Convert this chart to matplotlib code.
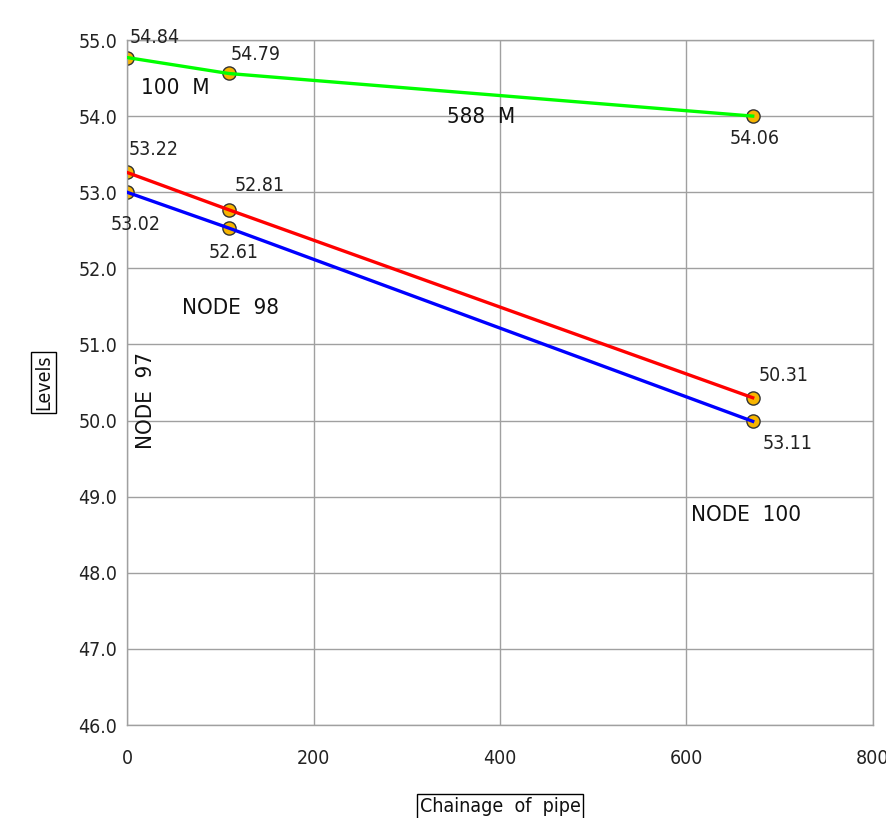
import matplotlib
matplotlib.use("Agg")
import matplotlib.pyplot as plt

plt.rcParams['font.family'] = ['DejaVu Sans']
plt.rcParams['font.stretch'] = 'condensed'

chainage = [0, 109, 671]
green_levels = [54.77, 54.56, 54.00]
red_levels = [53.26, 52.77, 50.30]
blue_levels = [53.00, 52.53, 49.99]

green_labels = ["54.84", "54.79", "54.06"]
red_labels = ["53.22", "52.81", "50.31"]
blue_labels = ["53.02", "52.61", "53.11"]

x_ticks = [0, 200, 400, 600, 800]
y_ticks = [46.0, 47.0, 48.0, 49.0, 50.0, 51.0, 52.0, 53.0, 54.0, 55.0]

fig = plt.figure(figsize=(8.87, 8.18), dpi=100)
ax = fig.add_axes([127/887, 93/818, 746/887, 685/818])

ax.set_xlim(0, 800)
ax.set_ylim(46, 55)
ax.set_xticks(x_ticks)
ax.set_yticks(y_ticks)
ax.set_yticklabels([f"{v:.1f}" for v in y_ticks])
ax.grid(True, color='#a0a0a0', linewidth=1.0)
ax.set_axisbelow(True)
for s in ax.spines.values():
    s.set_color('#a0a0a0')
    s.set_linewidth(1.0)
ax.tick_params(length=0, labelsize=14, labelcolor='#222222')
ax.tick_params(axis='y', pad=7)
ax.tick_params(axis='x', pad=17)

mk = dict(linestyle='none', marker='o', markersize=9.5, markerfacecolor='#f7b500',
          markeredgecolor='#333333', markeredgewidth=1.0, zorder=2)
for levels, col in [(blue_levels, '#0000ff'), (red_levels, '#ff0000'), (green_levels, '#00ff00')]:
    ax.plot(chainage, levels, **mk)
    ax.plot(chainage, levels, color=col, linewidth=2.4, zorder=3)

fs = 14
def lab(x, y, t, dx, dy, ha='left'):
    ax.annotate(t, (x, y), xytext=(dx * 0.72, dy * 0.72), textcoords='offset points',
                ha=ha, va='center', fontsize=fs, color='#222222')

green_off = [(3, 20, 'left'), (2, 19, 'left'), (2, -22, 'center')]
red_off = [(2, 23, 'left'), (6, 24, 'left'), (6, 22, 'left')]
blue_off = [(-16, -32, 'left'), (5, -25, 'center'), (10, -22, 'left')]
for xs, ys, labs, offs in [(chainage, green_levels, green_labels, green_off),
                           (chainage, red_levels, red_labels, red_off),
                           (chainage, blue_levels, blue_labels, blue_off)]:
    for x, y, t, (dx, dy, ha) in zip(xs, ys, labs, offs):
        lab(x, y, t, dx, dy, ha)

nfs = 16
ax.text(15, 54.37, "100  M", fontsize=nfs, va='center', ha='left', color='#111111')
ax.text(343, 53.99, "588  M", fontsize=nfs, va='center', ha='left', color='#111111')
ax.text(59, 51.48, "NODE  98", fontsize=nfs, va='center', ha='left', color='#111111')
ax.text(20.4, 50.26, "NODE  97", fontsize=nfs, va='center', ha='center', rotation=90, color='#111111')
ax.text(605, 48.76, "NODE  100", fontsize=nfs, va='center', ha='left', color='#111111')

box = dict(boxstyle='square,pad=0.15', facecolor='white', edgecolor='black', linewidth=1.0)
ax.set_ylabel("Levels", fontsize=14, bbox=box, labelpad=18, color='#111111')
ax.set_xlabel("Chainage  of  pipe", fontsize=14, bbox=box, labelpad=21, color='#111111')

fig.savefig("out.png", dpi=100)
